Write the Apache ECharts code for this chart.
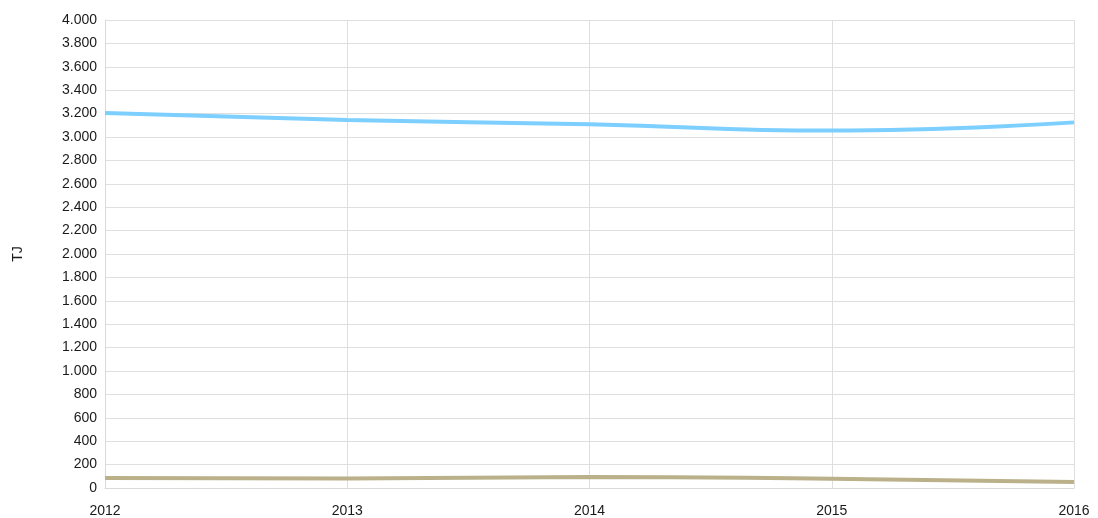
<!DOCTYPE html>
<html>
<head>
<meta charset="utf-8">
<script src="https://cdn.jsdelivr.net/npm/echarts@6/dist/echarts.min.js"></script>
<style>
  html, body { margin: 0; padding: 0; background: #fff; }
  #chart { width: 1098px; height: 518px; }
</style>
</head>
<body>
<div id="chart"></div>
<script>
// Years on the category axis
const years = ['2012', '2013', '2014', '2015', '2016'];
// Energy values in TJ
const seriesBlue = [3205, 3145, 3110, 3055, 3125];
const seriesOlive = [85, 82, 95, 78, 52];
const yTicks = { min: 0, max: 4000, interval: 200 };

// Format numbers with '.' as thousands separator
function fmt(v) {
  return String(v).replace(/\B(?=(\d{3})+(?!\d))/g, '.');
}

const chart = echarts.init(document.getElementById('chart'));
chart.setOption({
  animation: false,
  grid: { left: 105, right: 24, top: 20, bottom: 30, containLabel: false },
  xAxis: {
    type: 'category',
    data: years,
    boundaryGap: false,
    axisLine: { show: true, lineStyle: { color: '#dadada' } },
    axisTick: { show: false },
    axisLabel: { color: '#1a1a1a', fontFamily: 'Liberation Sans, Arial, sans-serif', fontSize: 14, margin: 16 },
    splitLine: { show: true, lineStyle: { color: '#dfdfdf', width: 1 } }
  },
  yAxis: {
    type: 'value',
    min: yTicks.min,
    max: yTicks.max,
    interval: yTicks.interval,
    name: 'TJ',
    nameLocation: 'middle',
    nameGap: 80,
    nameTextStyle: { color: '#1a1a1a', fontFamily: 'Liberation Sans, Arial, sans-serif', fontSize: 14 },
    axisLine: { show: true, lineStyle: { color: '#dadada' } },
    axisTick: { show: false },
    axisLabel: { color: '#1a1a1a', fontFamily: 'Liberation Sans, Arial, sans-serif', fontSize: 14, margin: 8, formatter: fmt },
    splitLine: { show: true, lineStyle: { color: '#dfdfdf', width: 1 } }
  },
  series: [
    {
      type: 'line',
      data: seriesBlue,
      smooth: true,
      symbol: 'none',
      lineStyle: { color: '#7ccfff', width: 4 }
    },
    {
      type: 'line',
      data: seriesOlive,
      smooth: true,
      symbol: 'none',
      lineStyle: { color: '#bab08a', width: 4 }
    }
  ]
});
</script>
</body>
</html>
